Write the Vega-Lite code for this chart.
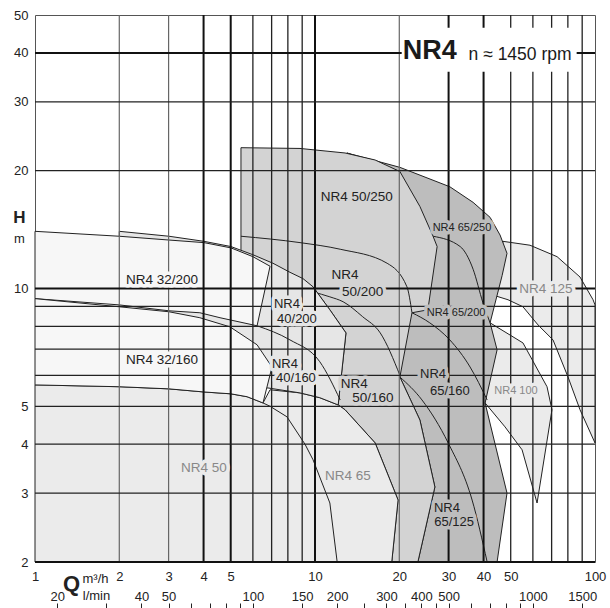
{
"$schema": "https://vega.github.io/schema/vega-lite/v6.json",
"width": 560, "height": 547,
"autosize": "none",
"padding": {"left": 35, "top": 15, "right": 15, "bottom": 46},
"background": "white",
"config": {"view": {"stroke": "#555", "strokeWidth": 1}, "font": "Liberation Sans"},
"datasets": {
"p125": [{"q":46.9,"h":13.2},{"q":58.6,"h":12.9},{"q":73.2,"h":12.06},{"q":88.4,"h":10.7},{"q":98.4,"h":9.36},{"q":100,"h":9.08},{"q":100,"h":4.03},{"q":88.4,"h":4.9},{"q":80.1,"h":5.94},{"q":70.8,"h":7.39},{"q":62.6,"h":8.07},{"q":55.3,"h":8.98},{"q":48.9,"h":9.36},{"q":44.0,"h":9.58},{"q":46.9,"h":13.2}],
"p100": [{"q":42.2,"h":8.17},{"q":55.3,"h":7.26},{"q":67.4,"h":5.61},{"q":70.2,"h":4.9},{"q":62.1,"h":2.83},{"q":54.9,"h":3.87},{"q":47.7,"h":4.43},{"q":40.5,"h":5.10},{"q":42.2,"h":8.17}],
"g65": [{"q":13.0,"h":22.2},{"q":20.1,"h":20.4},{"q":30.3,"h":18.2},{"q":36.7,"h":16.6},{"q":42.2,"h":15.2},{"q":45.8,"h":13.7},{"q":48.5,"h":12.3},{"q":46.6,"h":10.8},{"q":42.2,"h":8.17},{"q":44.7,"h":6.97},{"q":40.5,"h":5.10},{"q":48.5,"h":3.0},{"q":44.7,"h":2.0},{"q":23.3,"h":2.0},{"q":26.8,"h":3.11},{"q":23.7,"h":4.61},{"q":20.1,"h":5.94},{"q":20.1,"h":19.9},{"q":13.0,"h":22.2}],
"c65a": [{"q":26.4,"h":13.6},{"q":33.0,"h":12.8},{"q":36.7,"h":11.2},{"q":39.8,"h":9.19},{"q":42.2,"h":8.17}],
"c65b": [{"q":22.2,"h":8.67},{"q":25.7,"h":8.17},{"q":30.3,"h":7.39},{"q":35.8,"h":6.30},{"q":41.2,"h":5.19}],
"c65c": [{"q":20.1,"h":5.94},{"q":24.1,"h":5.19},{"q":29.9,"h":4.03},{"q":36.4,"h":2.88},{"q":41.2,"h":2.0}],
"g50": [{"q":5.44,"h":22.9},{"q":8.84,"h":22.8},{"q":12.8,"h":22.2},{"q":16.4,"h":21.3},{"q":20.1,"h":19.9},{"q":23.7,"h":16.2},{"q":26.4,"h":13.6},{"q":27.3,"h":12.8},{"q":25.3,"h":8.82},{"q":22.2,"h":8.67},{"q":20.1,"h":5.94},{"q":23.7,"h":4.61},{"q":26.8,"h":3.11},{"q":23.3,"h":2.0},{"q":18.8,"h":2.0},{"q":19.8,"h":2.88},{"q":16.4,"h":4.03},{"q":12.8,"h":4.9},{"q":12.1,"h":5.04},{"q":12.9,"h":7.70},{"q":11.3,"h":8.82},{"q":9.84,"h":10.1},{"q":5.44,"h":12.2},{"q":5.44,"h":22.9}],
"c50a": [{"q":5.44,"h":13.6},{"q":8.84,"h":13.1},{"q":12.3,"h":12.6},{"q":18.1,"h":11.6},{"q":21.3,"h":10.1},{"q":22.2,"h":8.67}],
"c50b": [{"q":9.84,"h":9.80},{"q":11.3,"h":9.52},{"q":12.6,"h":9.25},{"q":14.8,"h":8.47},{"q":17.1,"h":7.70},{"q":20.1,"h":6.0}],
"p65": [{"q":6.52,"h":5.10},{"q":6.91,"h":5.51},{"q":8.84,"h":5.41},{"q":10.4,"h":5.26},{"q":12.1,"h":5.04},{"q":12.8,"h":4.9},{"q":16.4,"h":4.03},{"q":19.8,"h":2.88},{"q":18.8,"h":2.0},{"q":8.84,"h":2.0},{"q":6.52,"h":5.10}],
"g40": [{"q":2.0,"h":14.0},{"q":3.01,"h":13.6},{"q":4.01,"h":13.2},{"q":5.01,"h":12.8},{"q":6.0,"h":12.2},{"q":7.08,"h":11.6},{"q":8.14,"h":11.0},{"q":9.06,"h":10.6},{"q":9.84,"h":10.1},{"q":11.3,"h":8.82},{"q":12.9,"h":7.70},{"q":12.1,"h":5.04},{"q":10.4,"h":5.26},{"q":8.84,"h":5.41},{"q":6.79,"h":5.57},{"q":2.0,"h":5.51},{"q":2.0,"h":14.0}],
"c40": [{"q":6.21,"h":8.03},{"q":8.14,"h":7.39},{"q":10.4,"h":6.5},{"q":12.3,"h":5.19}],
"p50": [{"q":1,"h":5.67},{"q":2.0,"h":5.61},{"q":3.01,"h":5.54},{"q":4.01,"h":5.44},{"q":5.01,"h":5.38},{"q":5.72,"h":5.29},{"q":6.52,"h":5.10},{"q":6.91,"h":5.0},{"q":7.94,"h":4.70},{"q":9.21,"h":4.0},{"q":9.84,"h":3.65},{"q":11.3,"h":2.83},{"q":12.0,"h":2.0},{"q":1,"h":2.0},{"q":1,"h":5.67}],
"p32a": [{"q":1,"h":14.0},{"q":2.0,"h":13.6},{"q":3.01,"h":13.3},{"q":4.01,"h":13.1},{"q":5.01,"h":12.7},{"q":6.0,"h":12.06},{"q":6.91,"h":11.4},{"q":6.21,"h":8.03},{"q":4.58,"h":8.42},{"q":3.88,"h":8.67},{"q":3.01,"h":8.77},{"q":2.0,"h":9.08},{"q":1,"h":9.42},{"q":1,"h":14.0}],
"p32b": [{"q":1,"h":9.42},{"q":2.0,"h":8.98},{"q":3.01,"h":8.72},{"q":3.88,"h":8.42},{"q":4.97,"h":7.98},{"q":6.21,"h":7.18},{"q":7.02,"h":6.30},{"q":6.52,"h":5.10},{"q":5.72,"h":5.29},{"q":5.01,"h":5.38},{"q":4.01,"h":5.44},{"q":3.01,"h":5.54},{"q":2.0,"h":5.61},{"q":1,"h":5.67},{"q":1,"h":9.42}],
"vthick": [{"q":4},{"q":5},{"q":10},{"q":30},{"q":40}],
"vmed": [{"q":6},{"q":7},{"q":8},{"q":9},{"q":50},{"q":60},{"q":70},{"q":80},{"q":90}],
"vthin": [{"q":2},{"q":3},{"q":20}],
"hthick": [{"h":10},{"h":40},{"h":2}],
"hmed": [{"h":3},{"h":4},{"h":5},{"h":6},{"h":7},{"h":8},{"h":9},{"h":20},{"h":30}],
"titleBox": [{"q":20.4,"q2":86,"h":35.8,"h2":46.4}],
"titleBig": [{"q":25.7,"h":40.5,"t":"NR4"}],
"titleSmall": [{"q":54.0,"h":39.6,"t":"n ≈ 1450 rpm"}],
"Lf7": [{"q":2.84,"h":10.5,"t":"NR4 32/200"},{"q":2.84,"h":6.57,"t":"NR4 32/160"}],
"Le6": [{"q":7.94,"h":9.14,"t":"NR4"},{"q":8.62,"h":8.36,"t":"40/200"},{"q":7.81,"h":6.42,"t":"NR4"},{"q":8.55,"h":5.91,"t":"40/160"}],
"Ld3": [{"q":14.1,"h":17.1,"t":"NR4 50/250"},{"q":12.8,"h":10.85,"t":"NR4"},{"q":14.8,"h":9.78,"t":"50/200"},{"q":13.8,"h":5.70,"t":"NR4"},{"q":16.1,"h":5.26,"t":"50/160"}],
"Lbd": [{"q":26.4,"h":6.05,"t":"NR4"},{"q":30.3,"h":5.47,"t":"65/160"},{"q":29.6,"h":2.75,"t":"NR4"},{"q":31.4,"h":2.53,"t":"65/125"}],
"Lbds": [{"q":33.5,"h":14.3,"t":"NR4 65/250"},{"q":31.9,"h":8.67,"t":"NR4 65/200"}],
"Lebg": [{"q":4.01,"h":3.48,"t":"NR4 50"},{"q":13.1,"h":3.32,"t":"NR4 65"},{"q":66.8,"h":9.98,"t":"NR4 125"}],
"Lebgs": [{"q":52.2,"h":5.47,"t":"NR4 100"}]
},
"layer": [
{"data":{"name":"p125"},"mark":{"type":"line","fill":"#ebebeb","stroke":"#222","strokeWidth":1},"encoding":{"x":{"field":"q","type":"quantitative","scale":{"type":"log","domain":[1,100]},"axis":null},"y":{"field":"h","type":"quantitative","scale":{"type":"log","domain":[2,50]},"axis":null},"order":{"value":null}}},
{"data":{"name":"p100"},"mark":{"type":"line","fill":"#ebebeb","stroke":"#222","strokeWidth":1},"encoding":{"x":{"field":"q","type":"quantitative","scale":{"type":"log","domain":[1,100]},"axis":null},"y":{"field":"h","type":"quantitative","scale":{"type":"log","domain":[2,50]},"axis":null},"order":{"value":null}}},
{"data":{"name":"g65"},"mark":{"type":"line","fill":"#bdbdbd","stroke":"#222","strokeWidth":1},"encoding":{"x":{"field":"q","type":"quantitative","scale":{"type":"log","domain":[1,100]},"axis":null},"y":{"field":"h","type":"quantitative","scale":{"type":"log","domain":[2,50]},"axis":null},"order":{"value":null}}},
{"data":{"name":"c65a"},"mark":{"type":"line","stroke":"#222","strokeWidth":1,"interpolate":"monotone"},"encoding":{"x":{"field":"q","type":"quantitative","scale":{"type":"log","domain":[1,100]},"axis":null},"y":{"field":"h","type":"quantitative","scale":{"type":"log","domain":[2,50]},"axis":null},"order":{"value":null}}},
{"data":{"name":"c65b"},"mark":{"type":"line","stroke":"#222","strokeWidth":1,"interpolate":"monotone"},"encoding":{"x":{"field":"q","type":"quantitative","scale":{"type":"log","domain":[1,100]},"axis":null},"y":{"field":"h","type":"quantitative","scale":{"type":"log","domain":[2,50]},"axis":null},"order":{"value":null}}},
{"data":{"name":"c65c"},"mark":{"type":"line","stroke":"#222","strokeWidth":1,"interpolate":"monotone"},"encoding":{"x":{"field":"q","type":"quantitative","scale":{"type":"log","domain":[1,100]},"axis":null},"y":{"field":"h","type":"quantitative","scale":{"type":"log","domain":[2,50]},"axis":null},"order":{"value":null}}},
{"data":{"name":"g50"},"mark":{"type":"line","fill":"#d3d3d3","stroke":"#222","strokeWidth":1},"encoding":{"x":{"field":"q","type":"quantitative","scale":{"type":"log","domain":[1,100]},"axis":null},"y":{"field":"h","type":"quantitative","scale":{"type":"log","domain":[2,50]},"axis":null},"order":{"value":null}}},
{"data":{"name":"c50a"},"mark":{"type":"line","stroke":"#222","strokeWidth":1,"interpolate":"monotone"},"encoding":{"x":{"field":"q","type":"quantitative","scale":{"type":"log","domain":[1,100]},"axis":null},"y":{"field":"h","type":"quantitative","scale":{"type":"log","domain":[2,50]},"axis":null},"order":{"value":null}}},
{"data":{"name":"c50b"},"mark":{"type":"line","stroke":"#222","strokeWidth":1,"interpolate":"monotone"},"encoding":{"x":{"field":"q","type":"quantitative","scale":{"type":"log","domain":[1,100]},"axis":null},"y":{"field":"h","type":"quantitative","scale":{"type":"log","domain":[2,50]},"axis":null},"order":{"value":null}}},
{"data":{"name":"p65"},"mark":{"type":"line","fill":"#ebebeb","stroke":"#222","strokeWidth":1},"encoding":{"x":{"field":"q","type":"quantitative","scale":{"type":"log","domain":[1,100]},"axis":null},"y":{"field":"h","type":"quantitative","scale":{"type":"log","domain":[2,50]},"axis":null},"order":{"value":null}}},
{"data":{"name":"g40"},"mark":{"type":"line","fill":"#e6e6e6","stroke":"#222","strokeWidth":1},"encoding":{"x":{"field":"q","type":"quantitative","scale":{"type":"log","domain":[1,100]},"axis":null},"y":{"field":"h","type":"quantitative","scale":{"type":"log","domain":[2,50]},"axis":null},"order":{"value":null}}},
{"data":{"name":"c40"},"mark":{"type":"line","stroke":"#222","strokeWidth":1,"interpolate":"monotone"},"encoding":{"x":{"field":"q","type":"quantitative","scale":{"type":"log","domain":[1,100]},"axis":null},"y":{"field":"h","type":"quantitative","scale":{"type":"log","domain":[2,50]},"axis":null},"order":{"value":null}}},
{"data":{"name":"p50"},"mark":{"type":"line","fill":"#ebebeb","stroke":"#222","strokeWidth":1},"encoding":{"x":{"field":"q","type":"quantitative","scale":{"type":"log","domain":[1,100]},"axis":{"orient":"bottom","values":[1,2,3,4,5,10,20,30,40,50,100],"labelExpr":"format(datum.value,'d')","ticks":false,"domain":false,"grid":false,"labelPadding":8,"labelFontSize":13,"labelColor":"#222","labelOverlap":false,"labelFlush":false,"title":"Q","titleFontSize":22,"titleFontWeight":"bold","titleColor":"#222","titleX":36,"titleY":21,"titleAlign":"center","titleBaseline":"middle"}},"y":{"field":"h","type":"quantitative","scale":{"type":"log","domain":[2,50]},"axis":{"orient":"left","values":[2,3,4,5,10,20,30,40,50],"labelExpr":"format(datum.value,'d')","ticks":false,"domain":false,"grid":false,"labelPadding":7,"labelFontSize":13,"labelColor":"#222","labelOverlap":false,"labelFlush":false,"title":"H","titleAngle":0,"titleFontSize":17,"titleFontWeight":"bold","titleColor":"#222","titleX":-16,"titleY":202,"titleAlign":"center","titleBaseline":"middle"}},"order":{"value":null}}},
{"data":{"name":"p32a"},"mark":{"type":"line","fill":"#f7f7f7","stroke":"#222","strokeWidth":1},"encoding":{"x":{"field":"q","type":"quantitative","scale":{"type":"log","domain":[1,100]},"axis":null},"y":{"field":"h","type":"quantitative","scale":{"type":"log","domain":[2,50]},"axis":null},"order":{"value":null}}},
{"data":{"name":"p32b"},"mark":{"type":"line","fill":"#f7f7f7","stroke":"#222","strokeWidth":1},"encoding":{"x":{"field":"q","type":"quantitative","scale":{"type":"log","domain":[1,100]},"axis":null},"y":{"field":"h","type":"quantitative","scale":{"type":"log","domain":[2,50]},"axis":null},"order":{"value":null}}},
{"data":{"name":"vthick"},"mark":{"type":"rule","stroke":"#111","strokeWidth":2},"encoding":{"x":{"field":"q","type":"quantitative","scale":{"type":"log","domain":[1,100]},"axis":null}}},
{"data":{"name":"vmed"},"mark":{"type":"rule","stroke":"#222","strokeWidth":1.3},"encoding":{"x":{"field":"q","type":"quantitative","scale":{"type":"log","domain":[1,100]},"axis":{"orient":"bottom","values":[1.2,2.4,3,6,9,12,18,24,30,60,90],"labelExpr":"format(datum.value/0.06,'d')","ticks":false,"domain":false,"grid":false,"labelPadding":28,"labelFontSize":13,"labelColor":"#222","labelOverlap":false,"labelFlush":false,"title":"l/min","titleFontSize":13,"titleFontWeight":"normal","titleColor":"#222","titleX":61,"titleY":33,"titleAlign":"center","titleBaseline":"middle"}}}},
{"data":{"name":"vthin"},"mark":{"type":"rule","stroke":"#666","strokeWidth":1.2},"encoding":{"x":{"field":"q","type":"quantitative","scale":{"type":"log","domain":[1,100]},"axis":{"orient":"bottom","values":[1.2,1.8,2.4,3,3.6,4.2,4.8,5.4,6,9,12,15,18,21,24,27,30,36,42,48,54,60,90],"labels":false,"ticks":true,"tickSize":5,"tickColor":"#222","tickWidth":1,"domain":false,"grid":false,"offset":41,"title":"m³/h","titleFontSize":13,"titleFontWeight":"normal","titleColor":"#222","titleX":60,"titleY":-25,"titleAlign":"center","titleBaseline":"middle"}}}},
{"data":{"name":"hthick"},"mark":{"type":"rule","stroke":"#111","strokeWidth":2},"encoding":{"y":{"field":"h","type":"quantitative","scale":{"type":"log","domain":[2,50]},"axis":null}}},
{"data":{"name":"hmed"},"mark":{"type":"rule","stroke":"#222","strokeWidth":1.3},"encoding":{"y":{"field":"h","type":"quantitative","scale":{"type":"log","domain":[2,50]},"axis":{"orient":"left","labels":false,"ticks":false,"domain":false,"grid":false,"title":"m","titleAngle":0,"titleFontSize":13,"titleFontWeight":"normal","titleColor":"#222","titleX":-16,"titleY":223,"titleAlign":"center","titleBaseline":"middle"}}}},
{"data":{"name":"titleBox"},"mark":{"type":"rect","fill":"white"},"encoding":{"x":{"field":"q","type":"quantitative","scale":{"type":"log","domain":[1,100]},"axis":null},"x2":{"field":"q2"},"y":{"field":"h","type":"quantitative","scale":{"type":"log","domain":[2,50]},"axis":null},"y2":{"field":"h2"}}},
{"data":{"name":"titleBig"},"mark":{"type":"text","font":"Liberation Sans","fontWeight":"bold","fontSize":27,"fill":"#1a1a1a","align":"center","baseline":"middle"},"encoding":{"x":{"field":"q","type":"quantitative","scale":{"type":"log","domain":[1,100]},"axis":null},"y":{"field":"h","type":"quantitative","scale":{"type":"log","domain":[2,50]},"axis":null},"text":{"field":"t"}}},
{"data":{"name":"titleSmall"},"mark":{"type":"text","font":"Liberation Sans","fontSize":17.5,"fill":"#1a1a1a","align":"center","baseline":"middle"},"encoding":{"x":{"field":"q","type":"quantitative","scale":{"type":"log","domain":[1,100]},"axis":null},"y":{"field":"h","type":"quantitative","scale":{"type":"log","domain":[2,50]},"axis":null},"text":{"field":"t"}}},
{"data":{"name":"Lf7"},"mark":{"type":"text","fontSize":13.5,"fill":"#f7f7f7","stroke":"#f7f7f7","strokeWidth":7,"strokeJoin":"round","align":"center","baseline":"middle"},"encoding":{"x":{"field":"q","type":"quantitative","scale":{"type":"log","domain":[1,100]},"axis":null},"y":{"field":"h","type":"quantitative","scale":{"type":"log","domain":[2,50]},"axis":null},"text":{"field":"t"}}},
{"data":{"name":"Lf7"},"mark":{"type":"text","fontSize":13.5,"fill":"#222","align":"center","baseline":"middle"},"encoding":{"x":{"field":"q","type":"quantitative","scale":{"type":"log","domain":[1,100]},"axis":null},"y":{"field":"h","type":"quantitative","scale":{"type":"log","domain":[2,50]},"axis":null},"text":{"field":"t"}}},
{"data":{"name":"Le6"},"mark":{"type":"text","fontSize":13,"fill":"#e6e6e6","stroke":"#e6e6e6","strokeWidth":7,"strokeJoin":"round","align":"center","baseline":"middle"},"encoding":{"x":{"field":"q","type":"quantitative","scale":{"type":"log","domain":[1,100]},"axis":null},"y":{"field":"h","type":"quantitative","scale":{"type":"log","domain":[2,50]},"axis":null},"text":{"field":"t"}}},
{"data":{"name":"Le6"},"mark":{"type":"text","fontSize":13,"fill":"#222","align":"center","baseline":"middle"},"encoding":{"x":{"field":"q","type":"quantitative","scale":{"type":"log","domain":[1,100]},"axis":null},"y":{"field":"h","type":"quantitative","scale":{"type":"log","domain":[2,50]},"axis":null},"text":{"field":"t"}}},
{"data":{"name":"Ld3"},"mark":{"type":"text","fontSize":13.5,"fill":"#d3d3d3","stroke":"#d3d3d3","strokeWidth":7,"strokeJoin":"round","align":"center","baseline":"middle"},"encoding":{"x":{"field":"q","type":"quantitative","scale":{"type":"log","domain":[1,100]},"axis":null},"y":{"field":"h","type":"quantitative","scale":{"type":"log","domain":[2,50]},"axis":null},"text":{"field":"t"}}},
{"data":{"name":"Ld3"},"mark":{"type":"text","fontSize":13.5,"fill":"#222","align":"center","baseline":"middle"},"encoding":{"x":{"field":"q","type":"quantitative","scale":{"type":"log","domain":[1,100]},"axis":null},"y":{"field":"h","type":"quantitative","scale":{"type":"log","domain":[2,50]},"axis":null},"text":{"field":"t"}}},
{"data":{"name":"Lbd"},"mark":{"type":"text","fontSize":13,"fill":"#bdbdbd","stroke":"#bdbdbd","strokeWidth":7,"strokeJoin":"round","align":"center","baseline":"middle"},"encoding":{"x":{"field":"q","type":"quantitative","scale":{"type":"log","domain":[1,100]},"axis":null},"y":{"field":"h","type":"quantitative","scale":{"type":"log","domain":[2,50]},"axis":null},"text":{"field":"t"}}},
{"data":{"name":"Lbd"},"mark":{"type":"text","fontSize":13,"fill":"#222","align":"center","baseline":"middle"},"encoding":{"x":{"field":"q","type":"quantitative","scale":{"type":"log","domain":[1,100]},"axis":null},"y":{"field":"h","type":"quantitative","scale":{"type":"log","domain":[2,50]},"axis":null},"text":{"field":"t"}}},
{"data":{"name":"Lbds"},"mark":{"type":"text","fontSize":11,"fill":"#bdbdbd","stroke":"#bdbdbd","strokeWidth":7,"strokeJoin":"round","align":"center","baseline":"middle"},"encoding":{"x":{"field":"q","type":"quantitative","scale":{"type":"log","domain":[1,100]},"axis":null},"y":{"field":"h","type":"quantitative","scale":{"type":"log","domain":[2,50]},"axis":null},"text":{"field":"t"}}},
{"data":{"name":"Lbds"},"mark":{"type":"text","fontSize":11,"fill":"#222","align":"center","baseline":"middle"},"encoding":{"x":{"field":"q","type":"quantitative","scale":{"type":"log","domain":[1,100]},"axis":null},"y":{"field":"h","type":"quantitative","scale":{"type":"log","domain":[2,50]},"axis":null},"text":{"field":"t"}}},
{"data":{"name":"Lebg"},"mark":{"type":"text","fontSize":13.5,"fill":"#ebebeb","stroke":"#ebebeb","strokeWidth":7,"strokeJoin":"round","align":"center","baseline":"middle"},"encoding":{"x":{"field":"q","type":"quantitative","scale":{"type":"log","domain":[1,100]},"axis":null},"y":{"field":"h","type":"quantitative","scale":{"type":"log","domain":[2,50]},"axis":null},"text":{"field":"t"}}},
{"data":{"name":"Lebg"},"mark":{"type":"text","fontSize":13.5,"fill":"#888","align":"center","baseline":"middle"},"encoding":{"x":{"field":"q","type":"quantitative","scale":{"type":"log","domain":[1,100]},"axis":null},"y":{"field":"h","type":"quantitative","scale":{"type":"log","domain":[2,50]},"axis":null},"text":{"field":"t"}}},
{"data":{"name":"Lebgs"},"mark":{"type":"text","fontSize":11,"fill":"#ebebeb","stroke":"#ebebeb","strokeWidth":7,"strokeJoin":"round","align":"center","baseline":"middle"},"encoding":{"x":{"field":"q","type":"quantitative","scale":{"type":"log","domain":[1,100]},"axis":null},"y":{"field":"h","type":"quantitative","scale":{"type":"log","domain":[2,50]},"axis":null},"text":{"field":"t"}}},
{"data":{"name":"Lebgs"},"mark":{"type":"text","fontSize":11,"fill":"#888","align":"center","baseline":"middle"},"encoding":{"x":{"field":"q","type":"quantitative","scale":{"type":"log","domain":[1,100]},"axis":null},"y":{"field":"h","type":"quantitative","scale":{"type":"log","domain":[2,50]},"axis":null},"text":{"field":"t"}}}
],
"resolve": {"axis": {"x": "independent", "y": "independent"}}
}
